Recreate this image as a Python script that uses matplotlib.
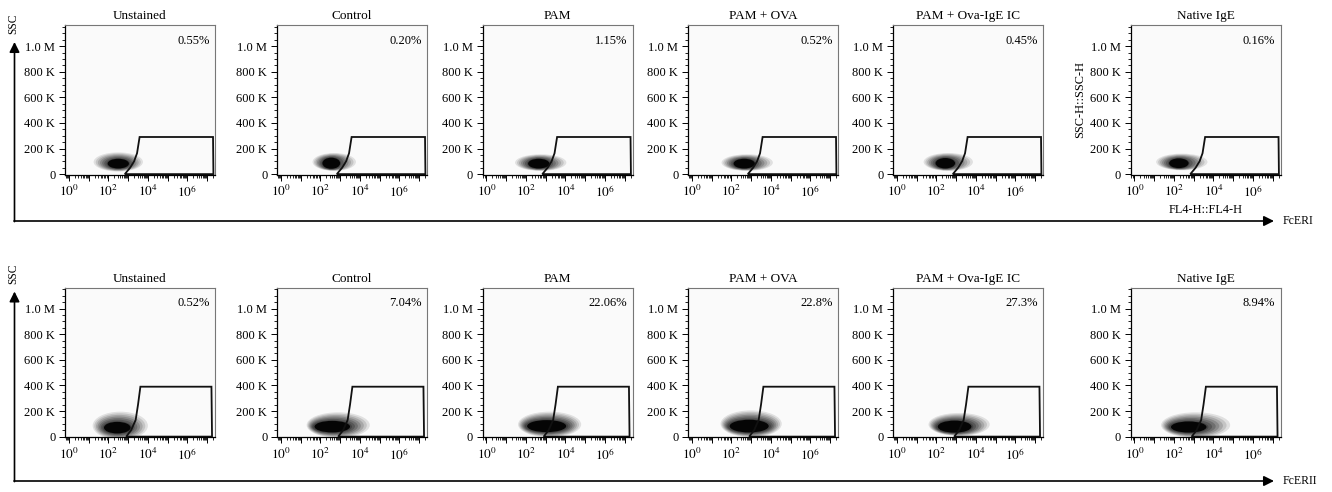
"""Flow cytometry panels: SSC vs FcERI / FcERII, six samples per receptor."""

import numpy as np
import matplotlib
matplotlib.use('Agg')
import matplotlib.pyplot as plt
from matplotlib.patches import Ellipse, Polygon
from matplotlib.ticker import FixedLocator, FuncFormatter, AutoMinorLocator

plt.rcParams['font.family'] = ['Liberation Serif', 'DejaVu Serif']
plt.rcParams['mathtext.fontset'] = 'stix'

# ===== Data (x in log10 decades, y in K events SSC) =====
samples = ['Unstained', 'Control', 'PAM', 'PAM + OVA', 'PAM + Ova-IgE IC', 'Native IgE']
receptors = ['FcERI', 'FcERII']
pct_fceri = ['0.55%', '0.20%', '1.15%', '0.52%', '0.45%', '0.16%']
pct_fcerii = ['0.52%', '7.04%', '22.06%', '22.8%', '27.3%', '8.94%']

# gate outline
gate1_x = [2.83, 3.1, 3.3, 3.45, 3.58, 7.3, 7.32]
gate1_y = [0, 50, 100, 163, 290, 290, 0]
gate2_x = [2.9, 3.15, 3.38, 3.5, 3.62, 7.22, 7.25]
gate2_y = [0, 50, 130, 250, 390, 390, 0]

# dense core of each cloud: centre and half-extent
core1_x = [2.50, 2.55, 2.65, 2.65, 2.45, 2.25]
core1_y = [82, 85, 82, 82, 85, 85]
core1_w = [0.60, 0.50, 0.60, 0.60, 0.55, 0.55]
core1_h = [42, 48, 42, 42, 45, 42]
core2_x = [2.45, 2.60, 3.05, 2.90, 2.92, 2.75]
core2_y = [70, 78, 82, 82, 78, 75]
core2_w = [0.75, 1.00, 1.10, 1.10, 0.95, 1.00]
core2_h = [50, 50, 52, 55, 52, 48]

# sparse halo around each cloud
halo1_x = [2.50, 2.70, 2.75, 2.80, 2.60, 2.40]
halo1_y = [95, 95, 90, 90, 95, 95]
halo1_w = [1.25, 1.10, 1.30, 1.30, 1.25, 1.30]
halo1_h = [75, 70, 65, 65, 70, 65]
halo2_x = [2.60, 2.90, 3.20, 3.00, 3.15, 3.10]
halo2_y = [85, 90, 95, 100, 95, 90]
halo2_w = [1.40, 1.60, 1.60, 1.55, 1.55, 1.75]
halo2_h = [110, 100, 100, 105, 90, 100]

rows = [
    (pct_fceri, gate1_x, gate1_y, core1_x, core1_y, core1_w, core1_h, halo1_x, halo1_y, halo1_w, halo1_h),
    (pct_fcerii, gate2_x, gate2_y, core2_x, core2_y, core2_w, core2_h, halo2_x, halo2_y, halo2_w, halo2_h),
]

# ===== Layout (pixels of a 1332x492 canvas) =====
W, H = 1332, 492
fig = plt.figure(figsize=(W / 100, H / 100), dpi=100)
lefts = [65, 277, 482.5, 688, 893, 1130.5]
tops = [25, 287.5]
PW, PH = 150, 149.5
N_LAYERS = 7  # shading steps from halo to core

y_labels = {0: '0', 200: '200 K', 400: '400 K', 600: '600 K', 800: '800 K', 1000: '1.0 M'}
minor_x = [n + np.log10(k) for n in range(-1, 8) for k in range(2, 10)]

for r, (pcts, gx, gy, cx, cy, cw, ch, hx, hy, hw, hh) in enumerate(rows):
    for i, name in enumerate(samples):
        ax = fig.add_axes([lefts[i] / W, 1 - (tops[r] + PH) / H, PW / W, PH / H])
        ax.set_facecolor('#fafafa')
        ax.set_xlim(-0.2, 7.4)
        ax.set_ylim(-3, 1165)

        # cloud: stacked translucent ellipses, sparse halo -> dense core
        for k in range(N_LAYERS):
            t = k / (N_LAYERS - 1)
            ex = hx[i] + (cx[i] - hx[i]) * t
            ey = hy[i] + (cy[i] - hy[i]) * t
            ew = hw[i] + (cw[i] - hw[i]) * t
            eh = hh[i] + (ch[i] - hh[i]) * t
            ax.add_patch(Ellipse((ex, ey), 2 * ew, 2 * eh, facecolor='black',
                                 alpha=0.1 + 0.14 * t, linewidth=0))
        ax.add_patch(Ellipse((cx[i], cy[i]), 1.8 * cw[i], 1.8 * ch[i], facecolor='black',
                             alpha=0.92, linewidth=0))
        ax.add_patch(Polygon(list(zip(gx, gy)), closed=True, fill=False,
                             edgecolor='#111111', linewidth=1.3))

        ax.text(0.965, 0.895, pcts[i], transform=ax.transAxes, ha='right', va='center',
                fontsize=9)
        ax.set_title(name, fontsize=9.5, pad=4)

        # axes styling, FlowJo-like
        for s in ['top', 'right']:
            ax.spines[s].set_color('#777777')
            ax.spines[s].set_linewidth(0.8)
        for s in ['left', 'bottom']:
            ax.spines[s].set_color('black')
            ax.spines[s].set_linewidth(0.9)
        ax.xaxis.set_major_locator(FixedLocator(range(0, 8)))
        ax.xaxis.set_minor_locator(FixedLocator(minor_x))
        ax.xaxis.set_major_formatter(FuncFormatter(
            lambda v, p: f'$10^{{{int(v)}}}$' if int(v) % 2 == 0 and v <= 6 else ''))
        ax.yaxis.set_major_locator(FixedLocator(list(y_labels)))
        ax.yaxis.set_minor_locator(AutoMinorLocator(4))
        ax.yaxis.set_major_formatter(FuncFormatter(lambda v, p: y_labels.get(int(round(v)), '')))
        ax.tick_params(which='major', direction='out', length=4, width=0.7,
                       labelsize=9, pad=3)
        ax.tick_params(axis='x', which='major', labelsize=9.5)
        ax.tick_params(which='minor', direction='out', length=2, width=0.6)

        if r == 0 and i == len(samples) - 1:
            ax.set_ylabel('SSC-H::SSC-H', fontsize=8.8, labelpad=3)
            ax.set_xlabel('FL4-H::FL4-H', fontsize=8.8, labelpad=3)

# ===== Big axis arrows =====
ov = fig.add_axes([0, 0, 1, 1])
ov.set_xlim(0, W)
ov.set_ylim(H, 0)
ov.set_axis_off()
arrow_base = [221, 481]
arrow_tip = [42, 291.5]
for r, rec in enumerate(receptors):
    props = dict(arrowstyle='-|>', color='black', lw=1.2, mutation_scale=15,
                 shrinkA=0, shrinkB=0)
    ov.annotate('', xy=(14.5, arrow_tip[r]), xytext=(14.5, arrow_base[r] + 0.6),
                arrowprops=props)
    ov.annotate('', xy=(1274, arrow_base[r]), xytext=(14, arrow_base[r]),
                arrowprops=props)
    ov.text(1283, arrow_base[r], rec, ha='left', va='center', fontsize=8.5)
    ov.text(13, arrow_tip[r] - 18, 'SSC', rotation=90, ha='center', va='center',
            fontsize=8.3)

fig.savefig('out.png', dpi=100)
print('saved out.png')
